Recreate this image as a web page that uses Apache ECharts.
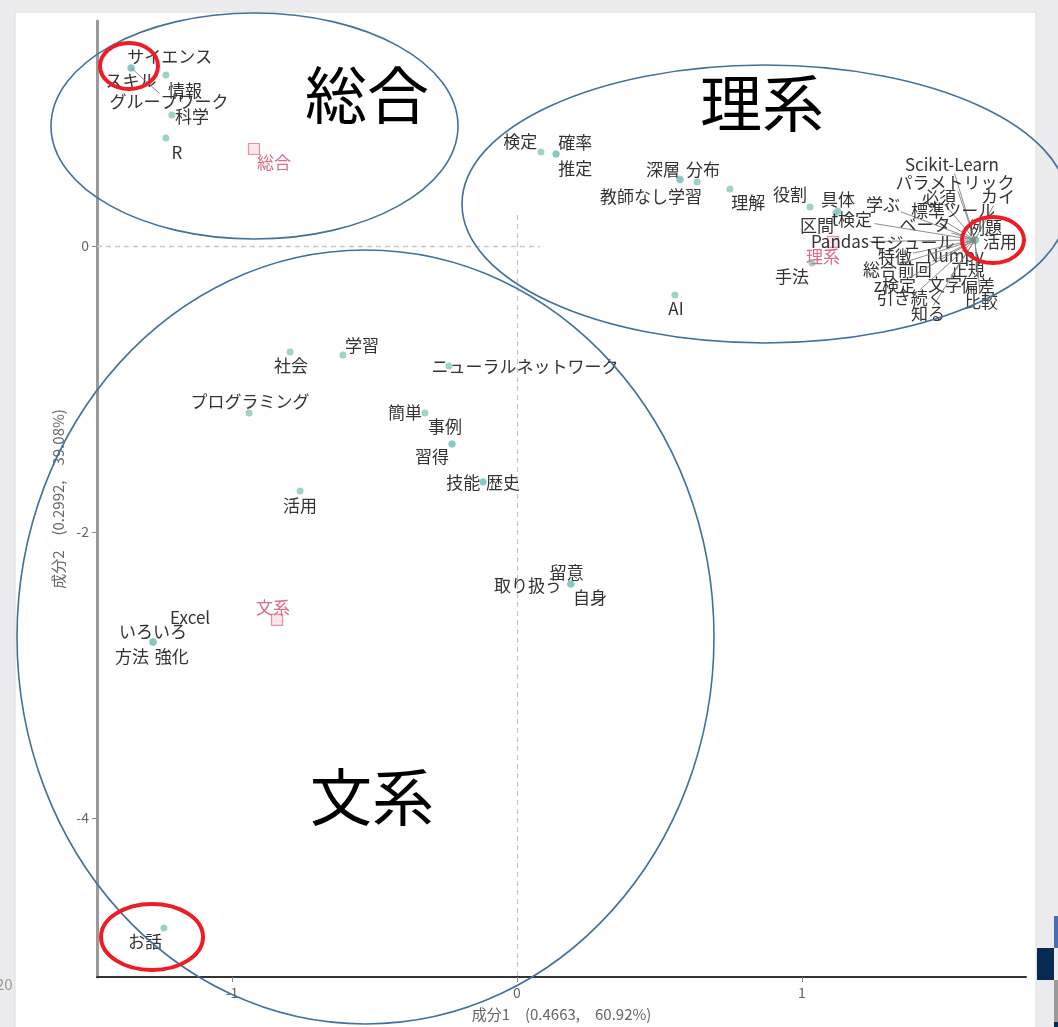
<!DOCTYPE html>
<html>
<head>
<meta charset="utf-8">
<title>対応分析</title>
<script src="https://cdn.jsdelivr.net/npm/echarts@6/dist/echarts.min.js"></script>
<style>
  html, body { margin: 0; padding: 0; background: #ececee; }
  #chart { width: 1058px; height: 1027px; }
</style>
</head>
<body>
<div id="chart"></div>
<script>
// 語の座標（成分1, 成分2）とラベル位置
var wordNames = [
  'サイエンス', 'スキル', 'グループワーク', '情報', '科学', 'R',
  '検定', '確率', '推定', '深層', '分布', '教師なし学習', '理解', '役割', '具体', '区間', '手法', 'AI',
  'Scikit-Learn', 'パラメトリック', '必須', 'カイ', '学ぶ', '標準', 'ツール', 'ベータ', '例題', 't検定',
  'Pandas', 'モジュール', '活用', '特徴', 'Numpy', '総合', '前回', '正規', 'z検定', '文字', '偏差',
  '引き続く', '比較', '知る',
  '社会', '学習', 'ニューラルネットワーク', 'プログラミング', '簡単', '事例', '習得', '技能', '歴史',
  '活用', '留意', '取り扱う', '自身', 'いろいろ', 'Excel', '方法', '強化', 'お話'
];
var wordX = [
  -1.354, -1.354, -1.354, -1.232, -1.211, -1.232,
  0.084, 0.137, 0.137, 0.572, 0.632, 0.572, 0.747, 1.028, 1.126, 1.119, 1.035, 0.554,
  1.607, 1.607, 1.607, 1.607, 1.607, 1.607, 1.607, 1.607, 1.607, 1.607,
  1.607, 1.607, 1.607, 1.607, 1.607, 1.607, 1.607, 1.607, 1.607, 1.607, 1.607,
  1.607, 1.607, 1.607,
  -0.796, -0.611, -0.239, -0.940, -0.323, -0.228, -0.228, -0.119, -0.119,
  -0.761, 0.189, 0.189, 0.189, -1.277, -1.277, -1.277, -1.277, -1.239
];
var wordY = [
  1.245, 1.245, 1.245, 1.196, 0.916, 0.755,
  0.657, 0.643, 0.643, 0.469, 0.448, 0.462, 0.399, 0.273, 0.245, 0.231, -0.119, -0.343,
  0.042, 0.042, 0.042, 0.042, 0.042, 0.042, 0.042, 0.042, 0.042, 0.042,
  0.042, 0.042, 0.042, 0.042, 0.042, 0.042, 0.042, 0.042, 0.042, 0.042, 0.042,
  0.042, 0.042, 0.042,
  -0.741, -0.762, -0.839, -1.168, -1.168, -1.385, -1.385, -1.650, -1.650,
  -1.713, -2.364, -2.364, -2.364, -2.769, -2.769, -2.769, -2.769, -4.769
];
var labelX = [
  -1.218, -1.354, -1.221, -1.165, -1.140, -1.193,
  0.011, 0.204, 0.204, 0.512, 0.653, 0.470, 0.811, 0.958, 1.126, 1.053, 0.965, 0.558,
  1.526, 1.537, 1.481, 1.688, 1.284, 1.442, 1.589, 1.432, 1.642, 1.175,
  1.133, 1.386, 1.695, 1.326, 1.537, 1.274, 1.396, 1.582, 1.326, 1.502, 1.618,
  1.382, 1.628, 1.442,
  -0.793, -0.544, 0.028, -0.937, -0.393, -0.253, -0.298, -0.189, -0.049,
  -0.761, 0.175, 0.039, 0.256, -1.277, -1.147, -1.351, -1.211, -1.305
];
var labelY = [
  1.322, 1.154, 1.007, 1.084, 0.902, 0.650,
  0.727, 0.720, 0.538, 0.531, 0.531, 0.343, 0.301, 0.357, 0.322, 0.140, -0.217, -0.441,
  0.566, 0.441, 0.336, 0.343, 0.287, 0.245, 0.245, 0.147, 0.126, 0.182,
  0.028, 0.021, 0.028, -0.077, -0.070, -0.168, -0.168, -0.168, -0.280, -0.273, -0.280,
  -0.364, -0.392, -0.476,
  -0.839, -0.699, -0.846, -1.091, -1.168, -1.266, -1.476, -1.657, -1.657,
  -1.818, -2.287, -2.378, -2.462, -2.699, -2.601, -2.874, -2.874, -4.867
];

// 文書グループ（カテゴリ）
var groupNames = ['総合', '理系', '文系'];
var groupX = [-0.923, 1.109, -0.842];
var groupY = [0.678, 0.028, -2.615];
var groupLabelX = [-0.853, 1.074, -0.856];
var groupLabelY = [0.580, -0.077, -2.531];

var xTicks = [-1, 0, 1];
var yTicks = [-4, -2, 0];
var xRange = [-1.4737, 1.786];
var yRange = [-5.112, 1.573];
// 原点の破線（途中まで）
var zeroLineV = [[0, 0.217], [0, -5.112]];
var zeroLineH = [[-1.4737, 0], [0.081, 0]];

var FS = 17;
var FONT = '"Noto Sans CJK JP", "Noto Sans", sans-serif';

function textWidth(s, fs) {
  var w = 0;
  for (var i = 0; i < s.length; i++) {
    w += s.charCodeAt(i) > 255 ? fs : fs * 0.56;
  }
  return w;
}

function makeLabelRender(names, color) {
  return function (params, api) {
    var p = api.coord([api.value(0), api.value(1)]);
    var l = api.coord([api.value(2), api.value(3)]);
    var name = names[params.dataIndex];
    var hw = textWidth(name, FS) / 2 + 1, hh = FS / 2;
    var children = [];
    var dx = Math.max(Math.abs(p[0] - l[0]) - hw, 0);
    var dy = Math.max(Math.abs(p[1] - l[1]) - hh, 0);
    if (Math.sqrt(dx * dx + dy * dy) > 22) {
      var vx = p[0] - l[0], vy = p[1] - l[1];
      var tx = vx !== 0 ? hw / Math.abs(vx) : Infinity;
      var ty = vy !== 0 ? hh / Math.abs(vy) : Infinity;
      var t = Math.min(tx, ty, 1);
      children.push({
        type: 'line',
        shape: { x1: l[0] + vx * t, y1: l[1] + vy * t, x2: p[0], y2: p[1] },
        style: { stroke: '#808080', lineWidth: 0.9 }
      });
    }
    children.push({
      type: 'text',
      x: l[0], y: l[1],
      style: {
        text: name, fill: color, fontSize: FS, fontFamily: FONT,
        align: 'center', verticalAlign: 'middle'
      }
    });
    return { type: 'group', children: children };
  };
}

var wordPoints = wordNames.map(function (n, i) { return [wordX[i], wordY[i]]; });
var wordLabels = wordNames.map(function (n, i) { return [wordX[i], wordY[i], labelX[i], labelY[i]]; });
var groupPoints = groupNames.map(function (n, i) { return [groupX[i], groupY[i]]; });
var groupLabels = groupNames.map(function (n, i) { return [groupX[i], groupY[i], groupLabelX[i], groupLabelY[i]]; });

var chart = echarts.init(document.getElementById('chart'));

var blue = '#41719c';
var red = '#ee1c24';

chart.setOption({
  backgroundColor: '#ececee',
  animation: false,
  grid: { left: 97, right: 32, top: 21, bottom: 50, containLabel: false },
  xAxis: {
    type: 'value',
    min: xRange[0], max: xRange[1],
    name: '成分1　(0.4663,　60.92%)',
    nameLocation: 'middle', nameGap: 30,
    nameTextStyle: { color: '#666', fontSize: 15, fontFamily: FONT },
    axisLine: { onZero: false, lineStyle: { color: '#333', width: 2 } },
    axisTick: { customValues: xTicks, length: 5, lineStyle: { color: '#888' } },
    axisLabel: { customValues: xTicks, color: '#666', fontSize: 14, margin: 9, fontFamily: FONT },
    splitLine: { show: false }
  },
  yAxis: {
    type: 'value',
    min: yRange[0], max: yRange[1],
    name: '成分2　(0.2992,　39.08%)',
    nameLocation: 'middle', nameGap: 31,
    nameTextStyle: { color: '#666', fontSize: 15, fontFamily: FONT },
    axisLine: { onZero: false, lineStyle: { color: '#9a9a9a', width: 3 } },
    axisTick: { customValues: yTicks, length: 5, lineStyle: { color: '#888' } },
    axisLabel: { customValues: yTicks, color: '#666', fontSize: 14, margin: 8, fontFamily: FONT },
    splitLine: { show: false }
  },
  graphic: [
    { type: 'rect', z: -100, shape: { x: 15, y: 12, width: 1021, height: 1030 },
      style: { fill: '#fff', stroke: '#dcdcdc', lineWidth: 1 } },
    { type: 'text', z: -90, x: -4, y: 977, style: { text: '20', fill: '#999', fontSize: 15, fontFamily: FONT } },
    { type: 'rect', z: -90, shape: { x: 1037, y: 948, width: 17, height: 32 }, style: { fill: '#062a52' } },
    { type: 'rect', z: -90, shape: { x: 1054, y: 916, width: 4, height: 32 }, style: { fill: '#4a6db4' } },
    { type: 'rect', z: -90, shape: { x: 1054, y: 980, width: 4, height: 42 }, style: { fill: '#9a9a9a' } },
    { type: 'rect', z: -90, shape: { x: 1054, y: 1022, width: 4, height: 5 }, style: { fill: '#062a52' } },
    // 注釈の楕円
    { type: 'ellipse', z: 100, shape: { cx: 254.5, cy: 126, rx: 203.5, ry: 113 },
      style: { fill: 'none', stroke: blue, lineWidth: 1.6 } },
    { type: 'ellipse', z: 100, shape: { cx: 765, cy: 204, rx: 303, ry: 139 },
      style: { fill: 'none', stroke: blue, lineWidth: 1.6 } },
    { type: 'ellipse', z: 100, shape: { cx: 365.5, cy: 637, rx: 348.5, ry: 387 },
      style: { fill: 'none', stroke: blue, lineWidth: 1.6 } },
    { type: 'ellipse', z: 100, shape: { cx: 129, cy: 66, rx: 29, ry: 23 },
      style: { fill: 'none', stroke: red, lineWidth: 4 } },
    { type: 'ellipse', z: 100, shape: { cx: 993, cy: 240, rx: 31, ry: 23 },
      style: { fill: 'none', stroke: red, lineWidth: 4 } },
    { type: 'ellipse', z: 100, shape: { cx: 152, cy: 937, rx: 51, ry: 33 },
      style: { fill: 'none', stroke: red, lineWidth: 4 } },
    { type: 'text', z: 100, x: 367, y: 95, style: { text: '総合', fill: '#000', fontSize: 62, fontFamily: FONT, align: 'center', verticalAlign: 'middle' } },
    { type: 'text', z: 100, x: 762, y: 103, style: { text: '理系', fill: '#000', fontSize: 62, fontFamily: FONT, align: 'center', verticalAlign: 'middle' } },
    { type: 'text', z: 100, x: 372, y: 797, style: { text: '文系', fill: '#000', fontSize: 62, fontFamily: FONT, align: 'center', verticalAlign: 'middle' } }
  ],
  series: [
    {
      name: 'words',
      type: 'scatter',
      data: wordPoints,
      symbolSize: 7,
      itemStyle: { color: '#86c8bf' },
      markLine: {
        silent: true,
        symbol: 'none',
        label: { show: false },
        lineStyle: { color: '#c8c8c8', type: [5, 4], width: 1.3 },
        data: [
          [{ coord: zeroLineV[0] }, { coord: zeroLineV[1] }],
          [{ coord: zeroLineH[0] }, { coord: zeroLineH[1] }]
        ]
      },
      z: 3
    },
    {
      name: 'groups',
      type: 'scatter',
      data: groupPoints,
      symbol: 'rect',
      symbolSize: 11,
      itemStyle: { color: 'rgba(240,170,180,0.35)', borderColor: '#e07b8f', borderWidth: 1.2 },
      z: 3
    },
    {
      name: 'wordLabels',
      type: 'custom',
      data: wordLabels,
      encode: { x: [0, 2], y: [1, 3] },
      renderItem: makeLabelRender(wordNames, '#333'),
      clip: false,
      z: 4
    },
    {
      name: 'groupLabels',
      type: 'custom',
      data: groupLabels,
      encode: { x: [0, 2], y: [1, 3] },
      renderItem: makeLabelRender(groupNames, '#dd6a86'),
      clip: false,
      z: 5
    }
  ]
});
</script>
</body>
</html>
